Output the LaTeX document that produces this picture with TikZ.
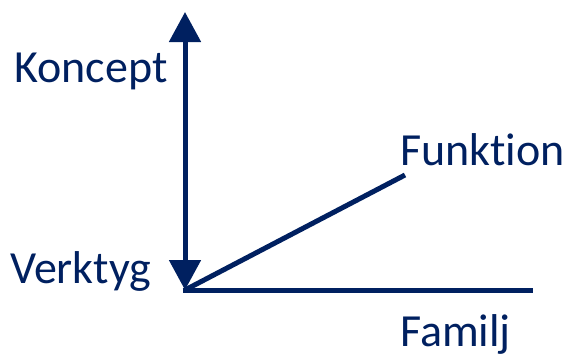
\documentclass[tikz,border=0pt]{standalone}
\usepackage{fontspec}
\setmainfont{Carlito}[Ligatures=NoCommon]
\usetikzlibrary{arrows.meta}
\definecolor{navy}{RGB}{0,32,96}
\begin{document}
\begin{tikzpicture}[x=1pt, y=-1pt, font=\fontsize{46}{55}\selectfont,
          lbl/.style={text=navy, inner sep=0pt, anchor=base west},
          ax/.style={draw=navy, line width=5pt},
          dblarrow/.style={ax, {Triangle[length=30pt, width=31pt]}-{Triangle[length=30pt, width=31pt]}}]
        \useasboundingbox (0,0) rectangle (570,356);
        \coordinate (o) at (185,290);
        \coordinate (top) at (185,12);
        \coordinate (fnend) at (405,175);
        \coordinate (famend) at (533,290);
        % Axes drawn from the common origin.
        \draw[ax] (o) -- (fnend);
        \draw[ax] ([xshift=-2.5pt]o) -- (famend);
        \draw[dblarrow] (top) -- (o);
        \node[lbl] (koncept) at (14,82) {Koncept};
        \node[lbl] (funktion) at (400,165) {Funktion};
        \node[lbl] (verktyg) at (10,283) {Verktyg};
        \node[lbl] (familj) at (400,346) {Familj};
      \end{tikzpicture}
\end{document}
